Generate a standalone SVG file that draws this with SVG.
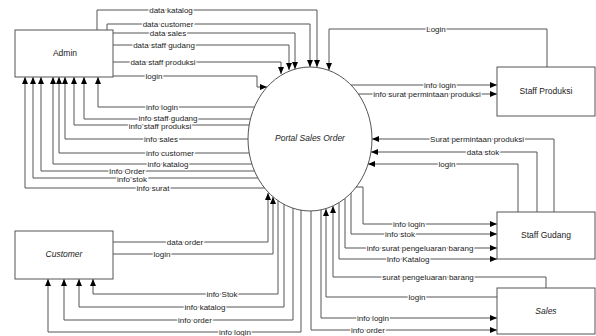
<svg xmlns="http://www.w3.org/2000/svg" width="596" height="336" viewBox="0 0 596 336">
<style>
.box{fill:#fff;stroke:#555;stroke-width:1}
.ell{fill:none;stroke:#555;stroke-width:1}
.nt{font-family:"Liberation Sans",Arial,sans-serif;font-size:8.5px;fill:#222;text-anchor:middle}
.it{font-style:italic}
.c{fill:none;stroke:#555;stroke-width:1}
.a{marker-end:url(#arr)}
.lb{font-family:"Liberation Sans",Arial,sans-serif;font-size:8px;fill:#222;text-anchor:middle;paint-order:stroke;stroke:#fff;stroke-width:2.5px;stroke-linejoin:round}
</style>
<defs>
<marker id="arr" markerWidth="7" markerHeight="6" refX="7" refY="3" orient="auto" markerUnits="userSpaceOnUse">
<path d="M0,0 L7,3 L0,6 z" fill="#000"/>
</marker>
</defs>
<rect width="596" height="336" fill="#fff"/>
<g id="connectors">
<path class="c a" d="M97,30 V10 H317 V67"/>
<path class="c a" d="M107,30 V24 H310 V67"/>
<path class="c a" d="M113,33 H295 V69"/>
<path class="c a" d="M113,45 H289 V70"/>
<path class="c a" d="M113,62 H281 V74"/>
<path class="c a" d="M113,76 H257 V87 H267"/>
<path class="c a" d="M254.5,107 H98 V77"/>
<path class="c a" d="M250.4,119 H84 V77"/>
<path class="c a" d="M249.2,125 H74 V77"/>
<path class="c a" d="M248,139 H65 V77"/>
<path class="c a" d="M249.2,153 H59 V77"/>
<path class="c a" d="M251.9,164 H53 V77"/>
<path class="c a" d="M254.5,171 H41 V77"/>
<path class="c a" d="M257.9,178 H33 V77"/>
<path class="c a" d="M264.6,188 H25 V77"/>
<path class="c a" d="M113,242 H268 V193"/>
<path class="c a" d="M113,254 H273 V197"/>
<path class="c a" d="M278,200.7 V294 H93 V279"/>
<path class="c a" d="M284,204.4 V307 H79 V279"/>
<path class="c a" d="M293,208 V320 H64 V279"/>
<path class="c a" d="M301,210 V332 H48 V279"/>
<path class="c a" d="M311,211 V330 H497"/>
<path class="c a" d="M321,210 V318 H497"/>
<path class="c a" d="M497,297 H326 V209"/>
<path class="c a" d="M546,288 V277 H333 V206"/>
<path class="c a" d="M339,202.6 V259 H497"/>
<path class="c a" d="M345,198.4 V248 H497"/>
<path class="c a" d="M351,193 V234 H497"/>
<path class="c a" d="M356,187 H363 V224 H497"/>
<path class="c a" d="M554,212 V139 H372"/>
<path class="c a" d="M537,212 V152 H371"/>
<path class="c a" d="M518,212 V164 H368"/>
<path class="c a" d="M547,67 V29 H329 V70"/>
<path class="c a" d="M351,85 H497"/>
<path class="c a" d="M358,94 H497"/>
<text class="lb" x="171" y="13">data katalog</text>
<text class="lb" x="168" y="27">data customer</text>
<text class="lb" x="168" y="36">data sales</text>
<text class="lb" x="164" y="48">data staff gudang</text>
<text class="lb" x="163" y="65">data staff produksi</text>
<text class="lb" x="154" y="79">login</text>
<text class="lb" x="162" y="110">info login</text>
<text class="lb" x="168" y="121">info staff gudang</text>
<text class="lb" x="160" y="128.5">info staff produksi</text>
<text class="lb" x="161" y="142">info sales</text>
<text class="lb" x="170" y="156">info customer</text>
<text class="lb" x="168" y="167">info katalog</text>
<text class="lb" x="132" y="182">info stok</text>
<text class="lb" x="127" y="173.5">Info Order</text>
<text class="lb" x="153" y="191">info surat</text>
<text class="lb" x="185" y="245">data order</text>
<text class="lb" x="162" y="257">login</text>
<text class="lb" x="222" y="297">info Stok</text>
<text class="lb" x="205" y="310">info katalog</text>
<text class="lb" x="195" y="323">info order</text>
<text class="lb" x="235" y="335">info login</text>
<text class="lb" x="436" y="32">Login</text>
<text class="lb" x="440" y="88">info login</text>
<text class="lb" x="427" y="97">info surat permintaan produksi</text>
<text class="lb" x="477" y="142">Surat permintaan produksi</text>
<text class="lb" x="483" y="155">data stok</text>
<text class="lb" x="447" y="167">login</text>
<text class="lb" x="409" y="227">info login</text>
<text class="lb" x="400" y="237">info stok</text>
<text class="lb" x="420" y="251">info surat pengeluaran barang</text>
<text class="lb" x="408" y="262">Info Katalog</text>
<text class="lb" x="428" y="280">surat pengeluaran barang</text>
<text class="lb" x="417" y="300">login</text>
<text class="lb" x="373" y="321">info login</text>
<text class="lb" x="368" y="333">info order</text>
</g>
<g id="admin">
<rect class="box" x="15" y="30" width="98" height="47"/>
<text class="nt" x="65" y="56">Admin</text>
</g>
<g id="portal">
<ellipse class="ell" cx="310" cy="139" rx="62" ry="72"/>
<text class="nt it" x="310" y="141">Portal Sales Order</text>
</g>
<g id="staff-produksi">
<rect class="box" x="497" y="67" width="98" height="49"/>
<text class="nt" x="546" y="94">Staff Produksi</text>
</g>
<g id="staff-gudang">
<rect class="box" x="497" y="212" width="98" height="47"/>
<text class="nt" x="546" y="238">Staff Gudang</text>
</g>
<g id="customer">
<rect class="box" x="15" y="231" width="98" height="48"/>
<text class="nt it" x="64" y="257">Customer</text>
</g>
<g id="sales">
<rect class="box" x="497" y="288" width="98" height="46"/>
<text class="nt it" x="546" y="314">Sales</text>
</g>
</svg>
